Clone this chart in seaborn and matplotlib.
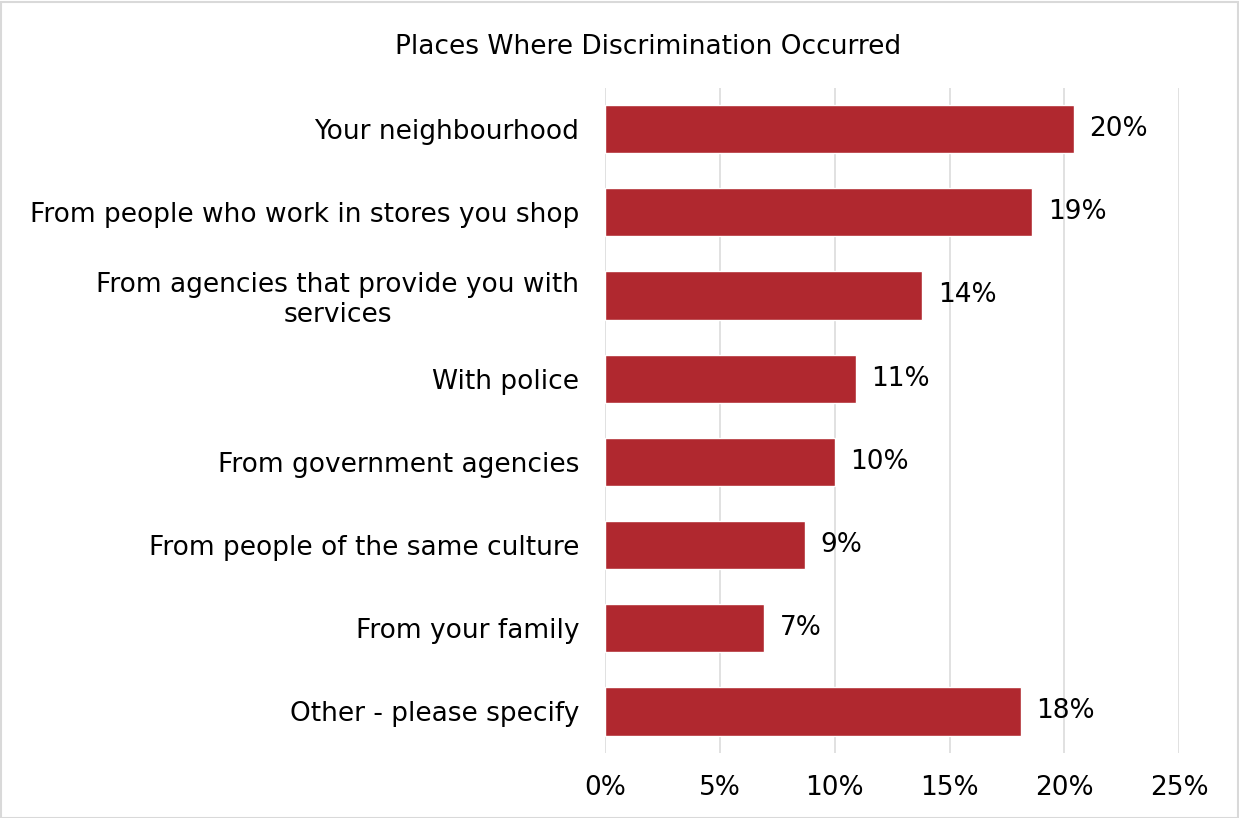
import matplotlib
matplotlib.use("Agg")
import matplotlib.pyplot as plt
import seaborn as sns
import pandas as pd
from matplotlib.patches import Rectangle

# Survey responses: where discrimination occurred (share of respondents, %)
places = [
    "Your neighbourhood",
    "From people who work in stores you shop",
    "From agencies that provide you with\nservices",
    "With police",
    "From government agencies",
    "From people of the same culture",
    "From your family",
    "Other - please specify",
]
shares = [20.4, 18.6, 13.8, 10.9, 10.0, 8.7, 6.9, 18.1]
x_ticks = [0, 5, 10, 15, 20, 25]
x_tick_labels = ["0%", "5%", "10%", "15%", "20%", "25%"]
title = "Places Where Discrimination Occurred"

bar_color = "#B0282F"
grid_color = "#D9D9D9"
fs = 19

sns.set_theme(style="white")
plt.rcParams["font.family"] = ["DejaVu Sans"]

df = pd.DataFrame({"place": places, "share": shares})

fig = plt.figure(figsize=(12.39, 8.18), dpi=100)
ax = fig.add_axes([0.4887, 0.0795, 0.4629, 0.8135])

sns.barplot(data=df, x="share", y="place", orient="h", color=bar_color,
            width=0.58, saturation=1, ax=ax, zorder=3)

ax.set_xlim(0, 25)
ax.set_ylim(len(places) - 0.5, -0.5)
ax.set_xticks(x_ticks)
ax.set_xticklabels(x_tick_labels, fontsize=fs, color="#000000")
ax.set_xlabel("")
ax.set_ylabel("")
ax.tick_params(axis="x", length=0, pad=16)
ax.tick_params(axis="y", length=0, pad=19)
for lbl in ax.get_yticklabels():
    lbl.set_fontsize(fs)
    lbl.set_color("#000000")
    lbl.set_multialignment("center")

ax.grid(axis="x", color=grid_color, linewidth=1.1, zorder=0)
ax.grid(axis="y", visible=False)
for s in ax.spines.values():
    s.set_visible(False)

# Value labels next to each bar
for i, v in enumerate(shares):
    ax.text(v + 0.68, i, f"{v:.0f}%", va="center", ha="left",
            fontsize=fs, color="#000000")

fig.text(648 / 1239, 1 - 46.5 / 818, title, ha="center", va="center",
         fontsize=fs, color="#000000")

# Thin light frame around the whole chart
fig.patches.append(Rectangle((0.001, 0.0), 0.998, 0.997, transform=fig.transFigure,
                             fill=False, edgecolor=grid_color, linewidth=1.5))

fig.savefig("out.png", dpi=100, facecolor="white")
